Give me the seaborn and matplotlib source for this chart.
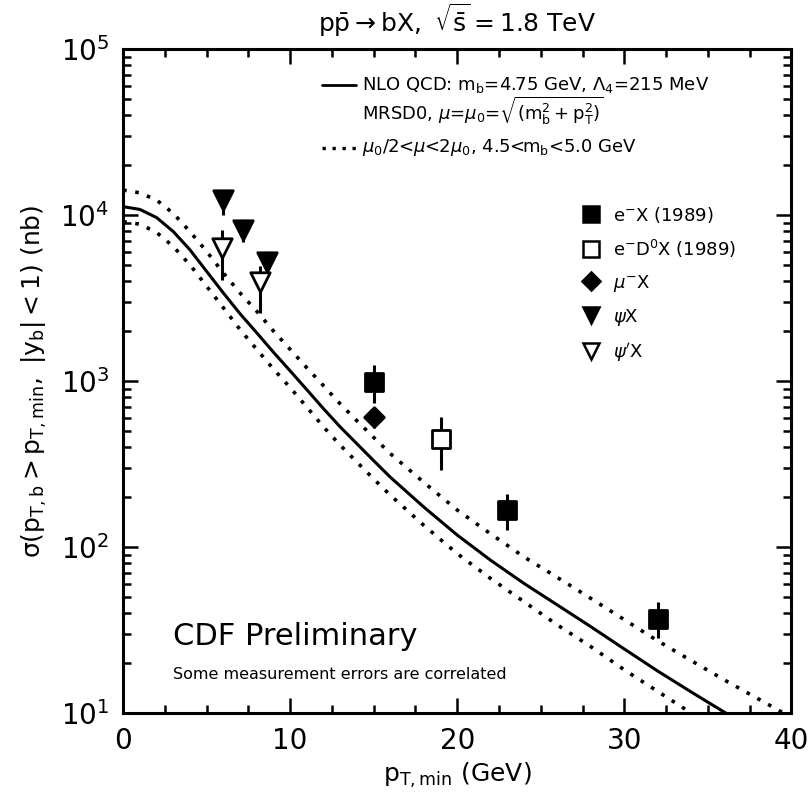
import numpy as np
import pandas as pd
import matplotlib
matplotlib.use("Agg")
import matplotlib.pyplot as plt
import seaborn as sns
from matplotlib.lines import Line2D

sns.set_theme(style="ticks")
plt.rcParams['font.family'] = ['DejaVu Sans']
plt.rcParams['mathtext.fontset'] = 'dejavusans'
plt.rcParams['text.color'] = 'black'
plt.rcParams['axes.labelcolor'] = 'black'
plt.rcParams['xtick.color'] = 'black'
plt.rcParams['ytick.color'] = 'black'

# ---- theory curves (nb) ----
pt_grid = [0, 1, 2, 3, 4, 5, 6, 7, 8, 9, 10, 11, 12, 13, 14, 15, 16, 18, 20,
           22, 24, 26, 28, 30, 32, 34, 36, 38, 40]
nlo_central = [11220, 10800, 9650, 7950, 6170, 4570, 3390, 2540, 1950, 1490,
               1150, 885, 680, 528, 418, 331, 263, 174, 118, 83.2, 60.3, 44.7,
               33.1, 24.3, 17.9, 13.4, 10.1, 7.8, 6.1]
nlo_upper = [14130, 13600, 12300, 10230, 7940, 6030, 4470, 3390, 2630, 2000,
             1550, 1200, 935, 727, 575, 457, 365, 245, 167, 120, 87.1, 65.5,
             49.0, 36.5, 27.2, 20.7, 15.8, 12.2, 9.4]
nlo_lower = [9120, 8800, 7850, 6460, 5010, 3720, 2760, 2040, 1550, 1180, 912,
             695, 528, 410, 324, 257, 205, 135, 91.2, 64.6, 46.8, 33.9, 25.1,
             18.2, 13.5, 10.0, 7.6, 5.8, 4.4]

# ---- measurements (nb) ----
eX_pt = [15, 23, 32]
eX_sig = [990, 167, 37]
eX_lo = [740, 126, 28.3]
eX_hi = [1250, 208, 46.7]

eD0X_pt = [19]
eD0X_sig = [448]
eD0X_lo = [291]
eD0X_hi = [607]

muX_pt = [15]
muX_sig = [607]
muX_lo = [521]
muX_hi = [697]

psiX_pt = [6.0, 7.2, 8.6]
psiX_sig = [12300, 8130, 5210]
psiX_lo = [10000, 6900, 4500]
psiX_hi = [12300, 8130, 5210]

psipX_pt = [5.9, 8.2]
psipX_sig = [6330, 3950]
psipX_lo = [4060, 2570]
psipX_hi = [8130, 4930]

fig = plt.figure(figsize=(8.1, 7.92), dpi=100)
ax = fig.add_axes([0.152, 0.0997, 0.825, 0.8385])

curves = pd.DataFrame({"pt": pt_grid * 3,
                       "sigma": nlo_central + nlo_upper + nlo_lower,
                       "curve": ["c"] * len(pt_grid) + ["u"] * len(pt_grid) + ["l"] * len(pt_grid)})
sns.lineplot(data=curves[curves.curve == "c"], x="pt", y="sigma", color="black",
             lw=2.2, ax=ax, legend=False)
for key in ["u", "l"]:
    sns.lineplot(data=curves[curves.curve == key], x="pt", y="sigma", color="black",
                 lw=2.6, ax=ax, legend=False, linestyle=(0, (1, 2.4)))

series = [
    (eX_pt, eX_sig, eX_lo, eX_hi, "s", "black", 13),
    (eD0X_pt, eD0X_sig, eD0X_lo, eD0X_hi, "s", "white", 13),
    (muX_pt, muX_sig, muX_lo, muX_hi, "D", "black", 10),
    (psiX_pt, psiX_sig, psiX_lo, psiX_hi, "v", "black", 14),
    (psipX_pt, psipX_sig, psipX_lo, psipX_hi, "v", "white", 14),
]
for pt, sig, lo, hi, m, fc, ms in series:
    s = np.array(sig, float)
    ax.errorbar(pt, s, yerr=[s - np.array(lo), np.array(hi) - s], fmt="none",
                ecolor="black", elinewidth=2.2, capsize=0, zorder=3)
    sns.scatterplot(x=pt, y=sig, marker=m, s=ms ** 2, color=fc, edgecolor="black",
                    linewidth=2.0, ax=ax, zorder=4, legend=False)

ax.set_yscale("log")
ax.set_xlim(0, 40)
ax.set_ylim(10, 1e5)
ax.set_xticks([0, 10, 20, 30, 40])
ax.set_xticks(np.arange(0, 40.1, 2.5), minor=True)
ax.tick_params(which="both", direction="in", top=True, right=True, width=1.8, colors="black")
ax.tick_params(which="major", length=11, labelsize=20, pad=10)
ax.tick_params(which="minor", length=6)
for sp in ax.spines.values():
    sp.set_linewidth(2.2)
    sp.set_color("black")

ax.set_xlabel(r"$\mathregular{p_{T,min}}$ (GeV)", fontsize=18, labelpad=4)
ax.set_ylabel(r"$\mathregular{\sigma(p_{T,b}>p_{T,min},\ |y_b|<1)}$ (nb)", fontsize=18, labelpad=8)
ax.set_title(r"$\mathregular{p\bar{p}\rightarrow bX,\ \sqrt{\bar{s}}=1.8}$ TeV", fontsize=18, pad=12)

# theory legend
ax.plot([0.298, 0.348], [0.946, 0.946], transform=ax.transAxes, color="black", lw=2)
ax.text(0.358, 0.946, r"NLO QCD: m$_\mathregular{b}$=4.75 GeV, $\mathregular{\Lambda_4}$=215 MeV",
        transform=ax.transAxes, fontsize=13, va="center")
ax.text(0.358, 0.907, r"MRSD0, $\mu$=$\mu_\mathregular{0}$=$\mathregular{\sqrt{(m_b^2+p_T^2)}}$",
        transform=ax.transAxes, fontsize=13, va="center")
ax.plot([0.298, 0.348], [0.851, 0.851], transform=ax.transAxes, color="black", lw=2.4,
        linestyle=(0, (1, 2)))
ax.text(0.358, 0.851, r"$\mu_\mathregular{0}$/2<$\mu$<2$\mu_\mathregular{0}$, 4.5<m$_\mathregular{b}$<5.0 GeV",
        transform=ax.transAxes, fontsize=13, va="center")

handles = [
    Line2D([], [], ls="none", marker="s", ms=11, mfc="black", mec="black", mew=1.8),
    Line2D([], [], ls="none", marker="s", ms=11, mfc="white", mec="black", mew=1.8),
    Line2D([], [], ls="none", marker="D", ms=9, mfc="black", mec="black", mew=1.8),
    Line2D([], [], ls="none", marker="v", ms=12, mfc="black", mec="black", mew=1.8),
    Line2D([], [], ls="none", marker="v", ms=12, mfc="white", mec="black", mew=1.8),
]
labels = [r"e$^{-}$X (1989)", r"e$^{-}$D$^\mathregular{0}$X (1989)", r"$\mu^{-}$X",
          r"$\psi$X", r"$\psi'$X"]
leg = ax.legend(handles, labels, loc="upper left", bbox_to_anchor=(0.66, 0.79), frameon=False,
                fontsize=13, labelspacing=0.72, handletextpad=0.6, handlelength=1.2)
for t in leg.get_texts():
    t.set_color("black")

ax.text(0.075, 0.116, "CDF Preliminary", transform=ax.transAxes, fontsize=22, va="center")
ax.text(0.075, 0.058, "Some measurement errors are correlated", transform=ax.transAxes,
        fontsize=11.5, va="center")

fig.savefig("out.png", dpi=100)
